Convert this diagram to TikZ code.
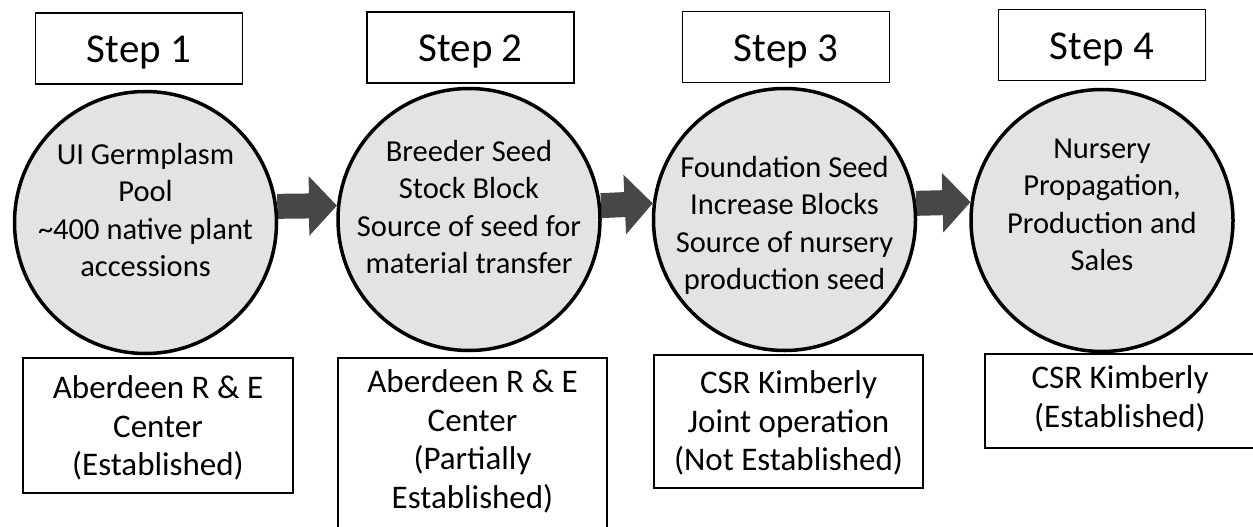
\documentclass[tikz,border=0pt]{standalone}
\usepackage{fontspec}
\setmainfont{Carlito}
\usetikzlibrary{arrows.meta}
\pgfdeclarelayer{bg}
\pgfsetlayers{bg,main}
\begin{document}
\begin{tikzpicture}[x=1pt,y=-1pt,
  stepbox/.style={draw, line width=1.6pt, minimum width=207pt, minimum height=71pt, inner sep=0pt,
    font=\fontsize{41}{49}\selectfont, text height=29pt, text depth=0pt},
  circ/.style={circle, draw, line width=3.5pt, fill=gray!22, minimum size=262pt, inner sep=0pt},
  ctext/.style={align=center, font=\fontsize{30.5}{37.5}\selectfont, inner sep=0pt},
  bbox/.style={draw, line width=1.8pt, inner sep=0pt},
  btext/.style={align=center, font=\fontsize{33}{38.5}\selectfont, inner sep=0pt},
  barrow/.style={line width=25pt, draw=black!72, -{Triangle[length=28pt,width=58pt]}}
]
\useasboundingbox (0,0) rectangle (1253,527);

% step boxes
\node[stepbox] (s1) at (139,48.5) {Step 1};
\node[stepbox] (s2) at (470.5,47.5) {Step 2};
\node[stepbox] (s3) at (786,47) {Step 3};
\node[stepbox] (s4) at (1102,45) {Step 4};

% circles
\node[circ] (c1) at (145.5,222.5) {};
\node[circ] (c2) at (469,219.5) {};
\node[circ] (c3) at (784.5,219.5) {};
\node[circ] (c4) at (1102,220.5) {};

\node[ctext] (ct1) at (145.5,210) {UI Germplasm\\Pool\\\textasciitilde400 native plant\\accessions};
\node[ctext] (ct2) at (469,207) {Breeder Seed\\Stock Block\\Source of seed for\\material transfer};
\node[ctext] (ct3) at (784.5,225.5) {Foundation Seed\\Increase Blocks\\Source of nursery\\production seed};
\node[ctext] (ct4) at (1102,205) {Nursery\\Propagation,\\Production and\\Sales};

% arrows
\begin{pgfonlayer}{bg}
\draw[barrow] (c1.7.2) -- (c2.174.1);
\draw[barrow] (c2.6.8) -- (c3.173.2);
\draw[barrow] (c3.7.2) -- (c4.172.3);
\end{pgfonlayer}

% bottom boxes
\node[bbox, minimum width=270pt, minimum height=135pt] (b1) at (158,425.5) {};
\node[bbox, minimum width=269pt, minimum height=187pt] (b2) at (472.5,451.5) {};
\node[bbox, minimum width=269pt, minimum height=133pt] (b3) at (788.5,421.5) {};
\node[bbox, minimum width=275pt, minimum height=94pt] (b4) at (1122.5,401) {};

\node[btext] (bt1) at (158,428) {Aberdeen R \& E\\Center\\(Established)};
\node[btext] (bt2) at (472.5,441.5) {Aberdeen R \& E\\Center\\(Partially\\Established)};
\node[btext] (bt3) at (788.5,423) {CSR Kimberly\\Joint operation\\(Not Established)};
\node[btext] (bt4) at (1120,399) {CSR Kimberly\\(Established)};
\end{tikzpicture}
\end{document}
